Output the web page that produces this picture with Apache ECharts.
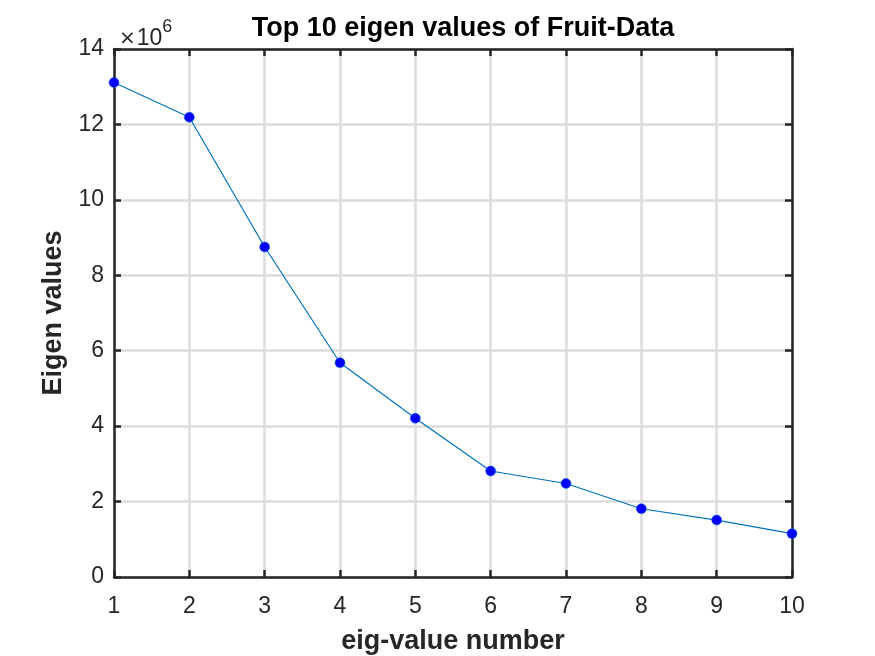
<!DOCTYPE html>
<html>
<head>
<meta charset="utf-8">
<script src="https://cdn.jsdelivr.net/npm/echarts@6/dist/echarts.min.js"></script>
<style>
  html, body { margin: 0; padding: 0; background: #fff; }
  #chart { width: 875px; height: 656px; }
</style>
</head>
<body>
<div id="chart"></div>
<script>
// eigen value index and values (x 10^6)
const eigIndex = [1, 2, 3, 4, 5, 6, 7, 8, 9, 10];
const eigValues = [13.11, 12.19, 8.75, 5.68, 4.21, 2.81, 2.48, 1.81, 1.51, 1.15];

const font = 'Arial, "Liberation Sans", Helvetica, sans-serif';
const axisColor = '#262626';

const chart = echarts.init(document.getElementById('chart'));

const baseX = { type: 'value', min: 1, max: 10, interval: 1 };
const baseY = { type: 'value', min: 0, max: 14, interval: 2 };

// shared box style: dark lines, ticks pointing in
const boxLine = { show: true, onZero: false, lineStyle: { color: axisColor, width: 2.5 } };
const boxTick = { show: true, inside: true, length: 7, lineStyle: { color: axisColor, width: 2.5 } };
const gridLine = { show: true, lineStyle: { color: '#dcdcdc', width: 2.5 } };

chart.setOption({
  animation: false,
  backgroundColor: '#fff',
  title: [{
    text: 'Top 10 eigen values of Fruit-Data',
    left: 458, top: 10, textAlign: 'center',
    textStyle: { fontFamily: font, fontWeight: 'bold', fontSize: 27, color: '#000' }
  }, {
    text: '{x|×}{a|10}{b|6}',
    left: 114, top: 10,
    textStyle: {
      rich: {
        x: { fontFamily: '"DejaVu Sans", sans-serif', fontWeight: 'normal', fontSize: 20, color: axisColor, padding: [12, 1, 0, 0] },
        a: { fontFamily: font, fontWeight: 'normal', fontSize: 23, color: axisColor, padding: [12, 0, 0, 0] },
        b: { fontFamily: font, fontWeight: 'normal', fontSize: 18, color: axisColor, padding: [0, 0, 10, 0] }
      }
    }
  }],
  grid: { left: 114, right: 83, top: 49, bottom: 79, outerBoundsMode: 'none', containLabel: false },
  xAxis: [Object.assign({}, baseX, {
    position: 'bottom',
    name: 'eig-value number',
    nameLocation: 'middle',
    nameGap: 51,
    nameTextStyle: { fontFamily: font, fontWeight: 'bold', fontSize: 27, color: axisColor },
    axisLine: boxLine,
    axisTick: boxTick,
    axisLabel: { margin: 18, fontFamily: font, fontSize: 23, color: axisColor },
    splitLine: gridLine
  }), Object.assign({}, baseX, {
    position: 'top',
    axisLine: boxLine,
    axisTick: boxTick,
    axisLabel: { show: false },
    splitLine: { show: false }
  })],
  yAxis: [Object.assign({}, baseY, {
    position: 'left',
    name: 'Eigen values',
    nameLocation: 'middle',
    nameGap: 46,
    nameTextStyle: { fontFamily: font, fontWeight: 'bold', fontSize: 27, color: axisColor },
    axisLine: boxLine,
    axisTick: boxTick,
    axisLabel: { margin: 10, fontFamily: font, fontSize: 23, color: axisColor },
    splitLine: gridLine
  }), Object.assign({}, baseY, {
    position: 'right',
    axisLine: boxLine,
    axisTick: boxTick,
    axisLabel: { show: false },
    splitLine: { show: false }
  })],
  series: [{
    type: 'line',
    data: eigIndex.map((x, i) => [x, eigValues[i]]),
    symbol: 'circle',
    symbolSize: 10,
    lineStyle: { color: '#0072BD', width: 1.2 },
    itemStyle: { color: '#0000FF', borderColor: '#0072BD', borderWidth: 0.5 },
    z: 5
  }]
});
</script>
</body>
</html>
